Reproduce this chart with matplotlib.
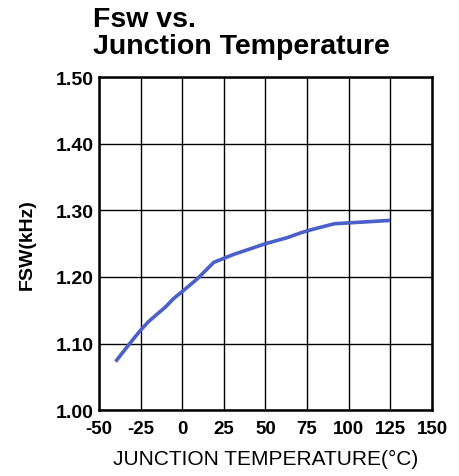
import matplotlib
matplotlib.use('Agg')
import matplotlib.pyplot as plt

temp = [-40, -31.5, -25, -20, -10, -5, 0, 9, 19, 25, 31, 37, 50, 63, 72, 79, 91.5, 105, 125]
fsw = [1.073, 1.100, 1.120, 1.1335, 1.155, 1.168, 1.178, 1.197, 1.222, 1.228, 1.234, 1.239,
       1.250, 1.259, 1.267, 1.272, 1.280, 1.282, 1.285]

x_ticks = [-50, -25, 0, 25, 50, 75, 100, 125, 150]
y_ticks = [1.00, 1.10, 1.20, 1.30, 1.40, 1.50]

plt.rcParams['font.family'] = ['Liberation Sans', 'DejaVu Sans']

fig = plt.figure(figsize=(4.6, 4.77), dpi=100)
ax = fig.add_axes([0.215, 0.138, 0.724, 0.698])

ax.plot(temp, fsw, color='#4a5fc8', linewidth=2.6, solid_capstyle='butt')

ax.set_xlim(-50, 150)
ax.set_ylim(1.0, 1.5)
ax.set_xticks(x_ticks)
ax.set_xticklabels([str(t) for t in x_ticks], fontsize=13.5, fontweight='bold')
ax.set_yticks(y_ticks)
ax.set_yticklabels(['%.2f' % t for t in y_ticks], fontsize=14, fontweight='bold')
ax.tick_params(length=0)
ax.tick_params(axis='x', pad=7)
ax.tick_params(axis='y', pad=4)
ax.grid(True, color='black', linewidth=1.0)
ax.set_axisbelow(True)
for s in ax.spines.values():
    s.set_linewidth(1.8)

ax.set_xlabel('JUNCTION TEMPERATURE(°C)', fontsize=15, labelpad=9)
ax.set_ylabel('FSW(kHz)', fontsize=14, fontweight='bold', labelpad=14)

fig.text(0.202, 0.985, 'Fsw vs.\nJunction Temperature', fontsize=20.5, fontweight='bold',
         ha='left', va='top', linespacing=1.05)

fig.savefig('out.png', dpi=100)
